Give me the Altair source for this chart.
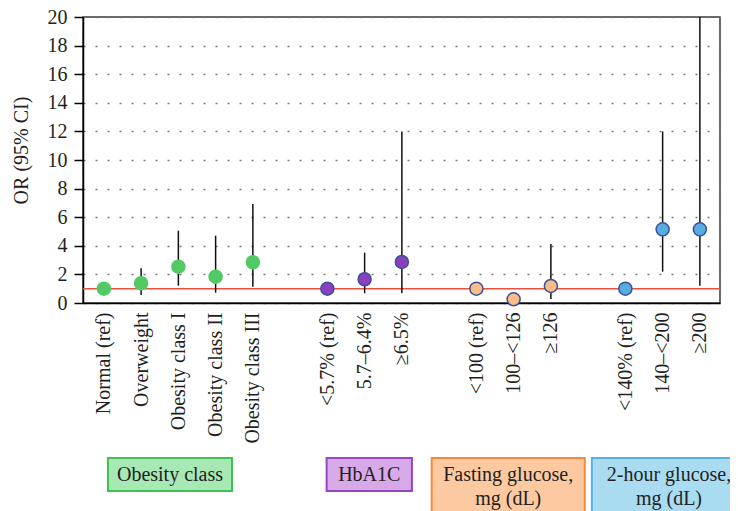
import json
import altair as alt
import pandas as pd

# ---------------- data ----------------
GROUPS = ["Obesity class", "HbA1C", "Fasting glucose,\nmg (dL)", "2-hour glucose,\nmg (dL)"]

OBESITY_CATS = ["Normal (ref)", "Overweight", "Obesity class I", "Obesity class II", "Obesity class III"]
OBESITY_OR = [1.0, 1.38, 2.54, 1.84, 2.85]
OBESITY_LO = [None, 0.56, 1.21, 0.72, 1.14]
OBESITY_HI = [None, 2.43, 5.06, 4.71, 6.92]

HBA1C_CATS = ["<5.7% (ref)", "5.7–6.4%", "≥6.5%"]
HBA1C_OR = [1.0, 1.66, 2.87]
HBA1C_LO = [None, 0.68, 0.68]
HBA1C_HI = [None, 3.52, 12.0]

FASTING_CATS = ["<100 (ref)", "100–<126", "≥126"]
FASTING_OR = [1.0, 0.26, 1.19]
FASTING_LO = [None, None, 0.28]
FASTING_HI = [None, None, 4.13]

TWOHOUR_CATS = ["<140% (ref)", "140–<200", "≥200"]
TWOHOUR_OR = [1.0, 5.15, 5.15]
TWOHOUR_LO = [None, 2.19, 1.21]
TWOHOUR_HI = [None, 12.0, 20.0]

Y_TICKS = list(range(0, 21, 2))
REF_LINE = 1

# ---------------- styles / layout ----------------
FILL = ["#52c965", "#8b3fbd", "#fbbd88", "#57addf"]
STROKE = ["#52c965", "#3d4f9c", "#3d4f9c", "#3d4f9c"]
BOX_FILL = ["#a8e8b4", "#d8a9e9", "#fdc9a0", "#a9dbf1"]
BOX_STROKE = ["#3cc250", "#9944c3", "#f28a3a", "#5ab0e0"]
BOX_SPAN = [(0.11, 3.44), (5.98, 8.27), (8.80, 12.91), (13.10, 17.24)]
FONT = "Liberation Serif"
TXT = "#231f20"

series = [
    (OBESITY_CATS, OBESITY_OR, OBESITY_LO, OBESITY_HI),
    (HBA1C_CATS, HBA1C_OR, HBA1C_LO, HBA1C_HI),
    (FASTING_CATS, FASTING_OR, FASTING_LO, FASTING_HI),
    (TWOHOUR_CATS, TWOHOUR_OR, TWOHOUR_LO, TWOHOUR_HI),
]

rows = []
pos = 0
for g, (cats, ors, los, his) in zip(GROUPS, series):
    for c, o, lo, hi in zip(cats, ors, los, his):
        rows.append({"group": g, "cat": c, "pos": pos, "or": o, "lo": lo, "hi": hi})
        pos += 1
    pos += 1
df = pd.DataFrame(rows)
ci = df.dropna(subset=["lo", "hi"])

n_slots = int(df["pos"].max()) + 1
label_arr = [""] * n_slots
for r in rows:
    label_arr[r["pos"]] = r["cat"]
label_expr = json.dumps(label_arr, ensure_ascii=False) + "[datum.value]"

boxes = pd.DataFrame({
    "box": GROUPS,
    "x0": [b[0] for b in BOX_SPAN],
    "x1": [b[1] for b in BOX_SPAN],
    "lines": [g.count("\n") + 1 for g in GROUPS],
})
boxes["xc"] = (boxes["x0"] + boxes["x1"]) / 2

xscale = alt.Scale(domain=[-0.56, 16.54], nice=False, zero=False)
yscale = alt.Scale(domain=[0, 20], nice=False)

x_axis = alt.Axis(values=[r["pos"] for r in rows], labelExpr=label_expr, title=None,
                  labelFont=FONT, labelFontSize=20, labelColor=TXT)
y_axis = alt.Axis(values=Y_TICKS, title="OR (95% CI)", titleY=133,
                  labelFont=FONT, labelFontSize=20, labelColor=TXT,
                  titleFont=FONT, titleFontSize=20, titleFontWeight="normal", titleColor=TXT)

base = alt.Chart(df)

points = base.mark_point(filled=True, size=170, strokeWidth=1.5, opacity=1).encode(
    x=alt.X("pos:Q", scale=xscale, axis=x_axis),
    y=alt.Y("or:Q", scale=yscale, axis=y_axis),
    fill=alt.Fill("group:N", scale=alt.Scale(domain=GROUPS, range=FILL), legend=None),
    stroke=alt.Stroke("group:N", scale=alt.Scale(domain=GROUPS, range=STROKE), legend=None),
)

bars = alt.Chart(ci).mark_rule(color="#111111", strokeWidth=1.5).encode(
    x=alt.X("pos:Q", scale=xscale, axis=x_axis),
    y=alt.Y("lo:Q", scale=yscale, axis=y_axis),
    y2="hi:Q",
)

ref = alt.Chart(pd.DataFrame({"v": [REF_LINE]})).mark_rule(color="#e8503f", strokeWidth=1.5).encode(
    y=alt.Y("v:Q", scale=yscale, axis=y_axis)
)

box_fill = alt.Scale(domain=GROUPS, range=BOX_FILL)
box_stroke = alt.Scale(domain=GROUPS, range=BOX_STROKE)

rect1 = alt.Chart(boxes).transform_filter("datum.lines == 1").mark_rect(strokeWidth=2).encode(
    x=alt.X("x0:Q", scale=xscale, axis=x_axis), x2="x1:Q",
    y=alt.value(441), y2=alt.value(474),
    fill=alt.Fill("box:N", scale=box_fill, legend=None),
    stroke=alt.Stroke("box:N", scale=box_stroke, legend=None),
)
rect2 = alt.Chart(boxes).transform_filter("datum.lines == 2").mark_rect(strokeWidth=2).encode(
    x=alt.X("x0:Q", scale=xscale, axis=x_axis), x2="x1:Q",
    y=alt.value(441), y2=alt.value(520),
    fill=alt.Fill("box:N", scale=box_fill, legend=None),
    stroke=alt.Stroke("box:N", scale=box_stroke, legend=None),
)
box_text = alt.Chart(boxes).mark_text(
    font=FONT, fontSize=20, color=TXT, align="center", baseline="alphabetic",
    lineBreak="\n", lineHeight=24,
).encode(
    x=alt.X("xc:Q", scale=xscale, axis=x_axis),
    y=alt.value(464),
    text="box:N",
)

chart = alt.layer(ref, bars, points, rect1, rect2, box_text).resolve_scale(
    fill="independent", stroke="independent"
).properties(
    width=637, height=286,
    autosize=alt.AutoSizeParams(type="none"),
    padding={"left": 75, "top": 9, "right": 10, "bottom": 208},
    background="white",
).configure_view(
    stroke="#3a3a3a", strokeWidth=1.5
).configure_axis(
    labelFont=FONT, labelFontSize=20, labelColor=TXT,
    titleFont=FONT, titleFontSize=20, titleFontWeight="normal", titleColor=TXT,
    domainColor="#000000", domainWidth=1.5, labelOverlap=False, labelFlush=False,
).configure_axisY(
    grid=True, gridDash=[2, 10], gridColor="#777777", gridWidth=1.5,
    tickColor="#000000", tickSize=9, tickWidth=1.5, labelPadding=7, titlePadding=16,
).configure_axisX(
    grid=False, ticks=False, tickSize=0, labelAngle=-90, labelPadding=9,
)

chart.save("out.html", embed_options={"renderer": "svg", "actions": False})
